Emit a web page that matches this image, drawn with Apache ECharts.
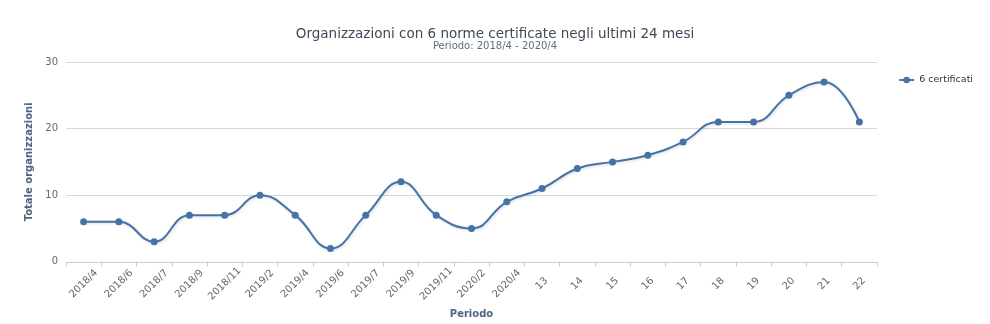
<!DOCTYPE html>
<html>
<head>
<meta charset="utf-8">
<script src="https://cdn.jsdelivr.net/npm/echarts@6/dist/echarts.min.js"></script>
<style>
html,body{margin:0;padding:0;background:#fff;}
#chart{width:990px;height:324px;}
</style>
</head>
<body>
<div id="chart"></div>
<script>
const categories = ['2018/4','2018/6','2018/7','2018/9','2018/11','2019/2','2019/4','2019/6','2019/7','2019/9','2019/11','2020/2','2020/4','13','14','15','16','17','18','19','20','21','22'];
const certificati6 = [6, 6, 3, 7, 7, 10, 7, 2, 7, 12, 7, 5, 9, 11, 14, 15, 16, 18, 21, 21, 25, 27, 21];
const yTicks = {min: 0, max: 30, interval: 10};

const font = 'DejaVu Sans, Verdana, sans-serif';
const chart = echarts.init(document.getElementById('chart'), null, {renderer: 'canvas'});
chart.setOption({
  animation: false,
  backgroundColor: '#fff',
  title: {
    text: 'Organizzazioni con 6 norme certificate negli ultimi 24 mesi',
    subtext: 'Periodo: 2018/4 - 2020/4',
    left: 'center',
    top: 22,
    itemGap: 0,
    textStyle: {fontFamily: font, fontSize: 13.5, fontWeight: 'normal', color: '#3e4a57'},
    subtextStyle: {fontFamily: font, fontSize: 10, color: '#5b6d82'}
  },
  legend: {
    right: 12,
    top: 70,
    orient: 'vertical',
    itemWidth: 15,
    itemHeight: 8,
    itemGap: 4,
    textStyle: {fontFamily: font, fontSize: 9.5, color: '#333'},
    data: ['6 certificati']
  },
  grid: {left: 66, right: 113, top: 62, bottom: 62},
  xAxis: {
    type: 'category',
    data: categories,
    boundaryGap: true,
    name: 'Periodo',
    nameLocation: 'middle',
    nameGap: 37,
    nameTextStyle: {fontFamily: font, fontSize: 10, fontWeight: 'bold', color: '#4d6580'},
    axisLine: {lineStyle: {color: '#c0d0e0', width: 1}},
    axisTick: {show: true, length: 5, alignWithLabel: false, lineStyle: {color: '#c0d0e0'}},
    axisLabel: {rotate: 45, align: 'center', verticalAlign: 'middle', fontFamily: font, fontSize: 10, color: '#666', margin: 22, interval: 0}
  },
  yAxis: {
    type: 'value',
    min: yTicks.min,
    max: yTicks.max,
    interval: yTicks.interval,
    name: 'Totale organizzazioni',
    nameLocation: 'middle',
    nameGap: 26,
    nameTextStyle: {fontFamily: font, fontSize: 10, fontWeight: 'bold', color: '#4d6580'},
    axisLine: {show: false},
    axisTick: {show: false},
    axisLabel: {fontFamily: font, fontSize: 10, color: '#666', margin: 8},
    splitLine: {lineStyle: {color: '#d8d8d8', width: 1}}
  },
  series: [{
    name: '6 certificati',
    type: 'line',
    data: certificati6,
    smooth: 0.45,
    symbol: 'circle',
    symbolSize: 7,
    itemStyle: {color: '#4572a7'},
    lineStyle: {color: '#4572a7', width: 2, shadowColor: 'rgba(0,0,0,0.15)', shadowBlur: 3, shadowOffsetX: 1, shadowOffsetY: 1}
  }]
});
</script>
</body>
</html>
